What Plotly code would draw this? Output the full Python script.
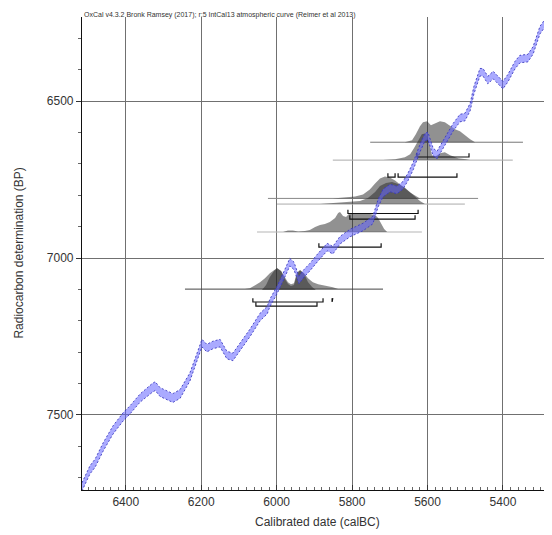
import plotly.graph_objects as go

# ---------------- data ----------------
# IntCal13 calibration curve: calendar year (BC), radiocarbon age (BP), 1-sigma (BP)
curve_year = [6516, 6495, 6481, 6460, 6434, 6407, 6389, 6362, 6330, 6322, 6309, 6291, 6275, 6256,
              6230, 6211, 6198, 6185, 6169, 6150, 6132, 6116, 6089, 6071, 6044, 6025, 6018, 5999,
              5983, 5965, 5954, 5941, 5927, 5912, 5890, 5866, 5851, 5832, 5805, 5771, 5745, 5731,
              5718, 5699, 5681, 5665, 5652, 5638, 5620, 5607, 5599, 5585, 5575, 5562, 5548, 5532,
              5514, 5501, 5487, 5477, 5461, 5453, 5440, 5426, 5413, 5400, 5387, 5368, 5355, 5334,
              5320, 5302, 5289, 5275, 5262]
curve_bp = [7729, 7675, 7653, 7602, 7548, 7506, 7484, 7446, 7414, 7408, 7427, 7436, 7446, 7433,
            7379, 7315, 7271, 7287, 7277, 7271, 7309, 7315, 7271, 7239, 7188, 7166, 7143, 7102,
            7061, 7013, 7025, 7070, 7048, 7029, 6997, 6965, 6975, 6943, 6920, 6901, 6879, 6825,
            6793, 6777, 6783, 6768, 6742, 6707, 6650, 6615, 6611, 6662, 6672, 6646, 6615, 6583,
            6554, 6551, 6519, 6465, 6408, 6408, 6433, 6417, 6433, 6449, 6427, 6385, 6366, 6363,
            6338, 6274, 6252, 6258, 6270]
curve_sigma = [13, 13, 13, 13, 13, 13, 13, 13, 14, 14, 14, 14, 14, 14,
               13, 12, 12, 12, 12, 12, 12, 12, 12, 12, 12, 12, 12, 12,
               12, 12, 12, 12, 12, 12, 12, 12, 12, 12, 12, 12, 12, 12,
               12, 12, 12, 12, 12, 12, 12, 12, 12, 12, 12, 12, 12, 12,
               12, 12, 12, 12, 12, 12, 12, 12, 12, 12, 12, 12, 12, 12,
               12, 12, 12, 12, 12]

# calibrated distributions: baseline (measured BP), years (BC), relative density
d1_bp = 6631
d1_year = [5660, 5641, 5631, 5620, 5612, 5601, 5591, 5580, 5567, 5554, 5540, 5527, 5514, 5501, 5487, 5474]
d1_dens = [0, 2, 8, 16, 20, 21, 17, 19, 21, 20, 16, 13, 11, 7, 3, 0]

d2_bp = 6688
d2_year = [5718, 5686, 5660, 5646, 5636, 5625, 5615, 5604, 5596, 5588, 5578, 5567, 5554, 5540, 5519, 5498, 5487]
d2_dens = [0, 1, 3, 6, 12, 20, 26, 27, 18, 5, 4, 7, 8, 5, 2, 1, 0]

d3_bp = 6810
d3_year = [5851, 5819, 5792, 5771, 5753, 5739, 5726, 5713, 5700, 5686, 5673, 5660, 5646, 5633, 5620]
d3_dens = [0, 1, 2, 4, 9, 15, 20, 22, 21, 18, 14, 10, 6, 3, 0]

d4_bp = 6828
d4_year = [5885, 5845, 5806, 5779, 5758, 5739, 5726, 5710, 5694, 5678, 5662, 5646, 5633, 5620, 5607]
d4_dens = [0, 1, 2, 3, 6, 12, 18, 21, 22, 20, 17, 12, 7, 3, 0]

d5_bp = 6917
d5_year = [5983, 5970, 5957, 5943, 5925, 5912, 5898, 5885, 5872, 5859, 5845, 5837, 5832, 5824, 5816,
           5806, 5792, 5779, 5766, 5753, 5739, 5731, 5723, 5715, 5707]
d5_dens = [0, 1.5, 1.5, 0.5, 1, 2, 5, 7, 8, 10, 14, 19, 20, 16, 15, 19, 18, 18, 19, 18, 17, 14, 8, 3, 0]

d6_bp = 7099
d6_year = [6084, 6071, 6057, 6044, 6031, 6018, 6007, 5999, 5988, 5978, 5970, 5962, 5954, 5946, 5938,
           5927, 5917, 5904, 5890, 5877, 5864, 5851, 5837]
d6_dens = [0, 1, 4, 7, 11, 16, 19, 21, 18, 12, 7, 5, 6, 17, 19, 16, 11, 7, 5, 4, 3, 2, 0]

d7_bp = 7102
d7_year = [6039, 6028, 6018, 6007, 5999, 5988, 5978, 5970, 5962, 5954, 5946, 5938, 5927, 5917, 5906, 5896]
d7_dens = [0, 5, 13, 19, 22, 19, 11, 6, 4, 5, 16, 20, 16, 8, 3, 0]

# horizontal measurement lines
line_bp = [6631, 6688, 6810, 6828, 6917, 7099]
line_from = [5752, 5851, 6023, 5999, 6052, 6243]
line_to = [5347, 5374, 5466, 5501, 5615, 5718]

# 95% range brackets
bracket_bp = [6678, 6742, 6742, 6858, 6876, 6965, 7140, 7140, 7153]
bracket_from = [5628, 5705, 5678, 5811, 5806, 5888, 6063, 5853, 6055]
bracket_to = [5490, 5686, 5522, 5625, 5633, 5723, 5877, 5851, 5893]

x_ticks = [6400, 6200, 6000, 5800, 5600, 5400]
y_ticks = [6500, 7000, 7500]

title_note = "OxCal v4.3.2 Bronk Ramsey (2017); r:5 IntCal13 atmospheric curve (Reimer et al 2013)"

# ---------------- styles ----------------
DENS_SCALE = 3.18          # BP units per density unit
DIST_FILL = "rgba(35,35,35,0.5)"
LINE_COLORS = ["#777777", "#aaaaaa", "#888888", "#aaaaaa", "#b5b5b5", "#444444"]
FONT = "Liberation Sans, Arial, sans-serif"
PAGE_OFFSET = 8            # default body margin of the html page

fig = go.Figure()

dists = [(d1_bp, d1_year, d1_dens), (d2_bp, d2_year, d2_dens), (d3_bp, d3_year, d3_dens),
         (d4_bp, d4_year, d4_dens), (d5_bp, d5_year, d5_dens), (d6_bp, d6_year, d6_dens),
         (d7_bp, d7_year, d7_dens)]

# measurement lines
for bp, a, b, c in zip(line_bp, line_from, line_to, LINE_COLORS):
    fig.add_trace(go.Scatter(x=[a, b], y=[bp, bp], mode="lines",
                             line=dict(color=c, width=1), hoverinfo="skip"))

# distributions
for bp, yrs, dens in dists:
    xs = list(yrs) + [yrs[-1], yrs[0]]
    ys = [bp - d * DENS_SCALE for d in dens] + [bp, bp]
    fig.add_trace(go.Scatter(x=xs, y=ys, mode="lines", fill="toself", fillcolor=DIST_FILL,
                             line=dict(width=0, color="rgba(0,0,0,0)"), hoverinfo="skip"))

# brackets
bx, by = [], []
for bp, a, b in zip(bracket_bp, bracket_from, bracket_to):
    bx += [a, a, b, b, None]
    by += [bp - 12, bp, bp, bp - 12, None]
fig.add_trace(go.Scatter(x=bx, y=by, mode="lines", line=dict(color="#111111", width=1.2),
                         hoverinfo="skip"))

# calibration curve band
lower = [b + s for b, s in zip(curve_bp, curve_sigma)]
upper = [b - s for b, s in zip(curve_bp, curve_sigma)]
fig.add_trace(go.Scatter(x=curve_year, y=lower, mode="lines",
                         line=dict(color="#3a3ac0", width=0.9, dash="2px,2px"), hoverinfo="skip"))
fig.add_trace(go.Scatter(x=curve_year, y=upper, mode="lines", fill="tonexty",
                         fillcolor="rgba(100,100,255,0.55)",
                         line=dict(color="#3a3ac0", width=0.9, dash="2px,2px"), hoverinfo="skip"))

fig.update_layout(
    width=552 - PAGE_OFFSET, height=535 - PAGE_OFFSET,
    margin=dict(l=82 - PAGE_OFFSET, r=0, t=17 - PAGE_OFFSET, b=45),
    plot_bgcolor="white", paper_bgcolor="white",
    showlegend=False,
    font=dict(family=FONT, size=12, color="#333333"),
    xaxis=dict(range=[6516, 5270], tickvals=x_ticks, ticktext=[str(v) for v in x_ticks],
               showgrid=True, gridcolor="#707070", gridwidth=1,
               showline=True, linecolor="#111111", linewidth=1.2,
               ticks="inside", ticklen=5, tickcolor="#333333",
               minor=dict(dtick=20, tick0=0, ticks="inside", ticklen=3, tickcolor="#666666",
                          showgrid=False),
               zeroline=False, tickfont=dict(size=12, color="#333333")),
    yaxis=dict(range=[7739, 6232], tickvals=y_ticks, ticktext=[str(v) for v in y_ticks],
               showgrid=True, gridcolor="#707070", gridwidth=1,
               showline=True, linecolor="#111111", linewidth=1.2,
               ticks="outside", ticklen=5, tickcolor="#333333",
               minor=dict(dtick=100, tick0=0, ticks="outside", ticklen=3, tickcolor="#666666",
                          showgrid=False),
               zeroline=False, tickfont=dict(size=12, color="#333333")),
    annotations=[
        dict(text=title_note, xref="paper", yref="paper", x=0, y=1.0175,
             xanchor="left", yanchor="top", showarrow=False,
             font=dict(size=7, color="#333333", family=FONT)),
        dict(text="Radiocarbon determination (BP)", xref="paper", yref="paper",
             x=-0.136, y=0.5, xanchor="center", yanchor="middle", textangle=-90,
             showarrow=False, font=dict(size=12, color="#333333", family=FONT)),
        dict(text="Calibrated date (calBC)", xref="paper", yref="paper",
             x=0.5, y=-0.068, xanchor="center", yanchor="middle",
             showarrow=False, font=dict(size=12, color="#333333", family=FONT)),
    ],
)

fig.write_html("out.html")
